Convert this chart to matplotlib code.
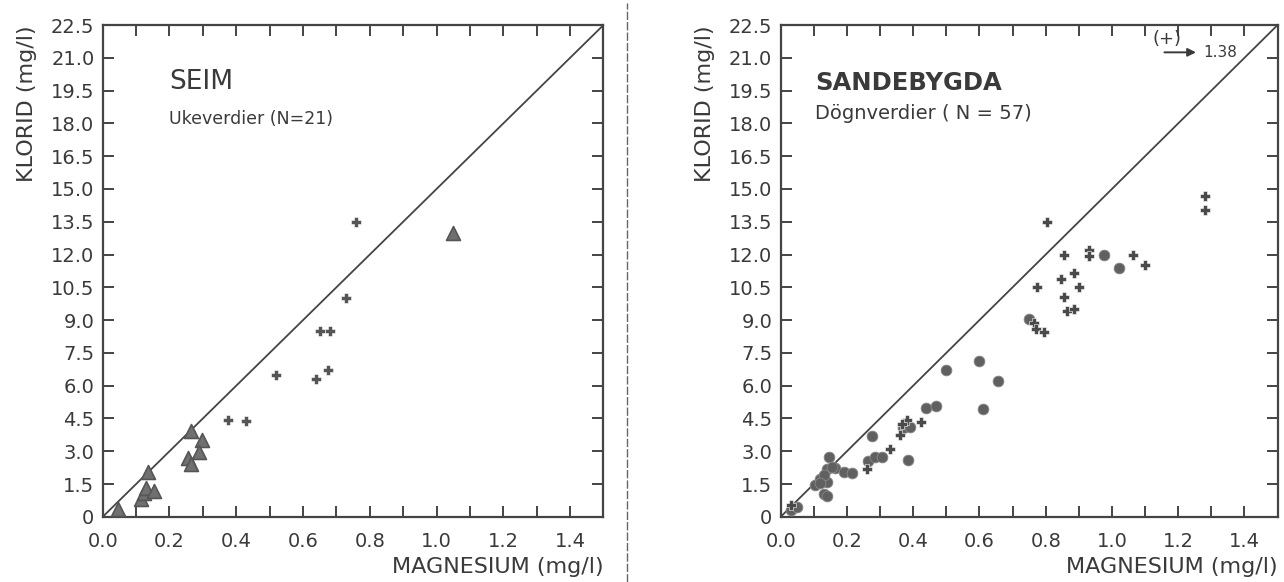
import numpy as np
import matplotlib
matplotlib.use("Agg")
import matplotlib.pyplot as plt
from matplotlib.lines import Line2D
from matplotlib.ticker import FixedLocator

# Seim, weekly samples: Mg vs Cl (mg/l)
seim_tri_mg = [0.045, 0.115, 0.125, 0.13, 0.155, 0.135, 0.265, 0.298, 0.288, 0.255, 0.265, 1.05]
seim_tri_cl = [0.37, 0.80, 1.10, 1.30, 1.20, 2.07, 3.93, 3.50, 2.97, 2.69, 2.43, 13.0]
seim_plus_mg = [0.375, 0.43, 0.52, 0.64, 0.675, 0.65, 0.68, 0.73, 0.76]
seim_plus_cl = [4.45, 4.40, 6.50, 6.30, 6.70, 8.50, 8.50, 10.0, 13.5]

# Sandebygda, daily samples
sand_dot_mg = [0.03, 0.05, 0.105, 0.12, 0.14, 0.13, 0.14, 0.145, 0.14, 0.165, 0.19, 0.215,
               0.13, 0.12, 0.155, 0.275, 0.265, 0.285, 0.305, 0.385, 0.37, 0.39, 0.44, 0.47,
               0.50, 0.60, 0.655, 0.61, 0.75, 0.975, 1.02]
sand_dot_cl = [0.30, 0.45, 1.45, 1.75, 1.60, 1.05, 0.95, 2.75, 2.20, 2.25, 2.05, 2.00,
               1.90, 1.55, 2.30, 3.70, 2.55, 2.75, 2.75, 2.60, 4.05, 4.10, 5.00, 5.05,
               6.70, 7.15, 6.20, 4.95, 9.05, 12.0, 11.4]
sand_plus_mg = [0.03, 0.26, 0.33, 0.36, 0.38, 0.425, 0.365, 0.765, 0.77, 0.795, 0.775,
                0.805, 0.855, 0.93, 0.93, 1.065, 1.10, 0.845, 0.885, 0.90, 0.855, 0.865,
                0.885, 1.28, 1.28]
sand_plus_cl = [0.55, 2.20, 3.10, 3.75, 4.45, 4.35, 4.25, 8.85, 8.60, 8.45, 10.5,
                13.5, 12.0, 12.2, 11.95, 12.0, 11.5, 10.9, 11.15, 10.5, 10.05, 9.4,
                9.5, 14.7, 14.05]

x_labels = ["0.0", "0.2", "0.4", "0.6", "0.8", "1.0", "1.2", "1.4"]
y_ticks = np.arange(0, 22.6, 1.5)
y_labels = ["0"] + [f"{v:.1f}" for v in y_ticks[1:]]

ink = "#3a3a3a"
plt.rcParams["font.family"] = "DejaVu Sans"
plt.rcParams["text.color"] = ink

fig = plt.figure(figsize=(12.84, 5.82), dpi=100)
ax1 = fig.add_axes([0.080, 0.112, 0.390, 0.845])
ax2 = fig.add_axes([0.608, 0.112, 0.387, 0.845])


def frame(ax):
    ax.set_xlim(0, 1.5)
    ax.set_ylim(0, 22.5)
    ax.plot([0, 1.5], [0, 22.5], color="#444", lw=1.3, zorder=1)
    ax.xaxis.set_major_locator(FixedLocator(np.arange(0, 1.41, 0.2)))
    ax.xaxis.set_minor_locator(FixedLocator(np.arange(0.1, 1.5, 0.2)))
    ax.set_xticklabels(x_labels)
    ax.yaxis.set_major_locator(FixedLocator(y_ticks))
    ax.set_yticklabels(y_labels)
    ax.tick_params(which="both", direction="in", top=True, right=True,
                   length=8, width=1.4, color="#444", labelsize=14,
                   labelcolor=ink)
    ax.tick_params(axis="x", pad=11)
    ax.tick_params(axis="y", pad=6)
    for s in ax.spines.values():
        s.set_color("#444")
        s.set_linewidth(1.6)
    ax.set_xlabel("MAGNESIUM (mg/l)", fontsize=16, loc="right", labelpad=4, color=ink)
    ax.set_ylabel("KLORID (mg/l)", fontsize=16, loc="top", labelpad=10, color=ink)


frame(ax1)
ax1.scatter(seim_tri_mg, seim_tri_cl, marker="^", s=100, color="#707070",
            edgecolors="#555", linewidths=1.2, zorder=3)
ax1.scatter(seim_plus_mg, seim_plus_cl, marker="P", s=50, color="#555",
            edgecolors="white", linewidths=0.4, zorder=3)
ax1.text(0.2, 19.9, "SEIM", fontsize=19, color=ink, va="center")
ax1.text(0.2, 18.2, "Ukeverdier (N=21)", fontsize=12.5, color=ink, va="center")

frame(ax2)
ax2.scatter(sand_dot_mg, sand_dot_cl, marker="o", s=60, color="#606060",
            edgecolors="#888", linewidths=0.6, zorder=3)
ax2.scatter(sand_plus_mg, sand_plus_cl, marker="P", s=50, color="#4a4a4a",
            edgecolors="white", linewidths=0.4, zorder=3)
ax2.text(0.105, 19.85, "SANDEBYGDA", fontsize=17.5, color=ink, va="center",
         fontweight="bold")
ax2.text(0.105, 18.45, "Dögnverdier ( N = 57)", fontsize=14, color=ink, va="center")

# point off the chart: Mg = 1.38
ax2.text(1.165, 21.85, "(+)", fontsize=13, color=ink, ha="center", va="center")
ax2.annotate("", xy=(1.262, 21.25), xytext=(1.15, 21.25),
             arrowprops=dict(arrowstyle="-|>", color=ink, lw=1.4, mutation_scale=12))
ax2.text(1.275, 21.25, "1.38", fontsize=11, color=ink, va="center")

# dashed divider between the two panels
fig.add_artist(Line2D([0.4885, 0.4885], [0.0, 0.995], transform=fig.transFigure,
                      color="#666", lw=1.0, ls=(0, (6, 1.5))))

fig.savefig("out.png", dpi=100, facecolor="white")
